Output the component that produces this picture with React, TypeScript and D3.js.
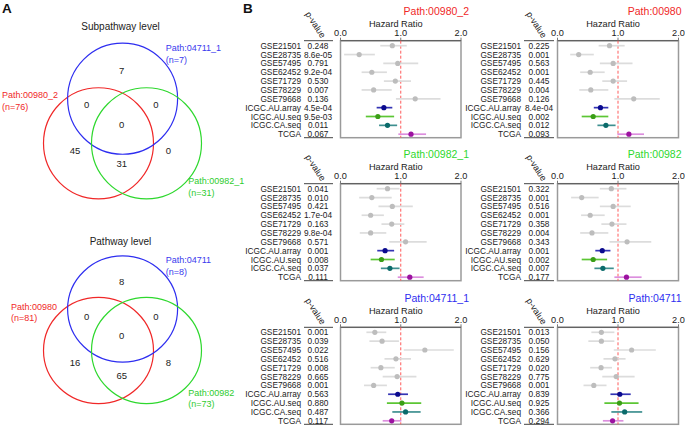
import React from 'react';
import * as d3 from 'd3';

// ---------- Data ----------
const datasets = ['GSE21501', 'GSE28735', 'GSE57495', 'GSE62452', 'GSE71729', 'GSE78229', 'GSE79668', 'ICGC.AU.array', 'ICGC.AU.seq', 'ICGC.CA.seq', 'TCGA'];
const datasetColors = ['#bdbdbd', '#bdbdbd', '#bdbdbd', '#bdbdbd', '#bdbdbd', '#bdbdbd', '#bdbdbd', '#0a0a8e', '#3a9e16', '#0b6b6b', '#9c12a0'];
const ciColors = ['#dcdcdc', '#dcdcdc', '#dcdcdc', '#dcdcdc', '#dcdcdc', '#dcdcdc', '#dcdcdc', '#3434b4', '#5cc634', '#3f9090', '#dc8ede'];

const hrTicks = [0, 1, 2];
const hrTickLabels = ['0.0', '1.0', '2.0'];

const panelTitles = ['Path:00980_2', 'Path:00980', 'Path:00982_1', 'Path:00982', 'Path:04711_1', 'Path:04711'];

const hr_00980_2 = [0.86, 0.31, 0.95, 0.52, 0.91, 0.55, 1.24, 0.72, 0.62, 0.78, 1.17];
const lo_00980_2 = [0.66, 0.06, 0.71, 0.35, 0.72, 0.35, 0.92, 0.60, 0.42, 0.64, 0.96];
const hi_00980_2 = [1.10, 0.57, 1.29, 0.77, 1.17, 0.85, 1.66, 0.86, 0.89, 0.94, 1.42];
const p_00980_2 = ['0.248', '8.6e-05', '0.791', '9.2e-04', '0.530', '0.007', '0.136', '4.5e-04', '9.5e-03', '0.011', '0.067'];

const hr_00980 = [0.86, 0.35, 0.92, 0.54, 0.92, 0.55, 1.26, 0.71, 0.59, 0.80, 1.18];
const lo_00980 = [0.68, 0.21, 0.70, 0.375, 0.74, 0.36, 0.94, 0.60, 0.40, 0.66, 0.99];
const hi_00980 = [1.11, 0.60, 1.24, 0.78, 1.15, 0.84, 1.69, 0.84, 0.84, 0.96, 1.43];
const p_00980 = ['0.225', '0.001', '0.563', '0.001', '0.445', '0.004', '0.126', '8.4e-04', '0.002', '0.012', '0.093'];

const hr_00982_1 = [0.78, 0.52, 0.86, 0.50, 0.85, 0.50, 1.08, 0.74, 0.68, 0.82, 1.15];
const lo_00982_1 = [0.60, 0.31, 0.63, 0.35, 0.68, 0.32, 0.81, 0.61, 0.50, 0.67, 0.95];
const hi_00982_1 = [0.98, 0.85, 1.20, 0.72, 1.06, 0.76, 1.43, 0.89, 0.90, 0.98, 1.38];
const p_00982_1 = ['0.041', '0.010', '0.421', '1.7e-04', '0.163', '9.8e-04', '0.571', '0.001', '0.008', '0.037', '0.111'];

const hr_00982 = [0.89, 0.40, 0.92, 0.54, 0.90, 0.57, 1.15, 0.74, 0.59, 0.75, 1.14];
const lo_00982 = [0.70, 0.225, 0.70, 0.39, 0.725, 0.375, 0.86, 0.625, 0.40, 0.61, 0.94];
const hi_00982 = [1.14, 0.68, 1.21, 0.78, 1.14, 0.84, 1.55, 0.875, 0.82, 0.93, 1.39];
const p_00982 = ['0.322', '0.001', '0.516', '0.001', '0.358', '0.004', '0.343', '0.001', '0.002', '0.007', '0.177'];

const hr_04711_1 = [0.57, 0.69, 1.40, 0.92, 0.67, 0.94, 0.55, 0.95, 1.02, 1.08, 0.85];
const lo_04711_1 = [0.43, 0.48, 1.05, 0.73, 0.50, 0.70, 0.39, 0.79, 0.77, 0.86, 0.70];
const hi_04711_1 = [0.76, 0.97, 1.88, 1.17, 0.90, 1.26, 0.77, 1.12, 1.34, 1.33, 1.01];
const p_04711_1 = ['0.001', '0.039', '0.022', '0.516', '0.008', '0.665', '0.001', '0.563', '0.880', '0.487', '0.117'];

const hr_04711 = [0.725, 0.725, 1.225, 0.95, 0.72, 0.97, 0.60, 1.03, 1.025, 1.11, 0.91];
const lo_04711 = [0.56, 0.51, 0.93, 0.76, 0.54, 0.74, 0.43, 0.875, 0.775, 0.89, 0.75];
const hi_04711 = [0.94, 0.94, 1.625, 1.125, 0.90, 1.275, 0.81, 1.21, 1.34, 1.40, 1.09];
const p_04711 = ['0.013', '0.050', '0.156', '0.629', '0.020', '0.775', '0.001', '0.839', '0.925', '0.366', '0.294'];

// Venn data
const vennTitles = ['Subpathway level', 'Pathway level'];
const vennSetsSub = ['Path:00980_2', 'Path:04711_1', 'Path:00982_1'];
const vennSizesSub = [76, 7, 31];
const vennSetsPath = ['Path:00980', 'Path:04711', 'Path:00982'];
const vennSizesPath = [81, 8, 73];
// region order: blueOnly, red∩blue, blue∩green, all, redOnly, red∩green, greenOnly
const vennCountsSub = [7, 0, 0, 0, 45, 31, 0];
const vennCountsPath = [8, 0, 0, 0, 16, 65, 8];

// ---------- Styling ----------
const FONT = "'Liberation Sans', Arial, Helvetica, sans-serif";
const RED = '#f02828';
const BLUE = '#2e2ef0';
const GREEN = '#2ed82e';
const TXT = '#222';

const colLayouts = [
  { labelRight: 301, pv: 318, ulL: 304, ulR: 333, x0: 340.5, x1: 461, titleRight: 469 },
  { labelRight: 521, pv: 539, ulL: 524, ulR: 554, x0: 557.5, x1: 678.5, titleRight: 681.5 },
];
const rowTops = [40.7, 183.7, 327.3];

type ForestProps = { col: number; row: number; title: string; color: string; hr: number[]; lo: number[]; hi: number[]; pv: string[] };

function Forest({ col, row, title, color, hr, lo, hi, pv }: ForestProps) {
  const L = colLayouts[col];
  const top = rowTops[row];
  const bottom = top + 97;
  const x = d3.scaleLinear().domain([0, 2]).range([L.x0, L.x1]);
  const y = d3.scalePoint<string>().domain(datasets).range([top + 5, top + 93.5]);
  const mid = (L.x0 + L.x1) / 2;
  return (
    <g fontFamily={FONT}>
      <text x={L.titleRight} y={top - 29.5} textAnchor="end" dominantBaseline="central" fontSize={10.5} fill={color}>{title}</text>
      <text x={mid - 5} y={top - 16.5} textAnchor="middle" dominantBaseline="central" fontSize={9.2} fill={TXT}>Hazard Ratio</text>
      {hrTicks.map((t, i) => (
        <g key={i}>
          <text x={x(t)} y={top - 7.5} textAnchor="middle" dominantBaseline="central" fontSize={9.2} fill={TXT}>{hrTickLabels[i]}</text>
          <line x1={x(t)} x2={x(t)} y1={top - 3} y2={top} stroke="#555" strokeWidth={0.8} />
        </g>
      ))}
      <text transform={`translate(${L.pv - 2.5},${top - 16})rotate(57)`} textAnchor="middle" dominantBaseline="central" fontSize={9} fill={TXT}>p-value</text>
      <line x1={L.ulL} x2={L.ulR} y1={top} y2={top} stroke="#444" strokeWidth={1} />
      <line x1={L.ulL} x2={L.ulR} y1={bottom} y2={bottom} stroke="#444" strokeWidth={1} />
      <rect x={L.x0} y={top} width={L.x1 - L.x0} height={bottom - top} fill="none" stroke="#9a9a9a" strokeWidth={1.5} />
      <line x1={L.x0} x2={L.x1} y1={top} y2={top} stroke="#555" strokeWidth={1} />
      <line x1={x(1)} x2={x(1)} y1={top} y2={bottom} stroke="#ff5a5a" strokeWidth={1} strokeDasharray="3,2" />
      {datasets.map((d, i) => (
        <g key={d}>
          <text x={L.labelRight} y={y(d)} textAnchor="end" dominantBaseline="central" fontSize={8.3} fill={TXT}>{d}</text>
          <text x={L.pv} y={y(d)} textAnchor="middle" dominantBaseline="central" fontSize={8.3} fill={TXT}>{pv[i]}</text>
          <line x1={x(lo[i])} x2={x(hi[i])} y1={y(d)} y2={y(d)} stroke={ciColors[i]} strokeWidth={1.7} />
          <circle cx={x(hr[i])} cy={y(d)} r={2.6} fill={datasetColors[i]} />
        </g>
      ))}
    </g>
  );
}

type VennProps = { title: string; sets: string[]; sizes: number[]; counts: number[]; dy: number; ryScale: number; blueCy: number; lowCy: number; titleY: number };

function Venn({ title, sets, sizes, counts, dy, ryScale, blueCy, lowCy, titleY }: VennProps) {
  const rx = 55;
  const ry = 55 * ryScale;
  const circles = [
    { cx: 98.5, cy: lowCy, c: RED },
    { cx: 122.6, cy: blueCy, c: BLUE },
    { cx: 146.5, cy: lowCy, c: GREEN },
  ];
  const regionPos = [
    [121.7, 70], [86.7, 104.3], [156, 104.3], [121.7, 124], [75, 150.7], [121.7, 163.3], [168.3, 150.7],
  ];
  const labelPos = [
    { x: sets[0].length > 10 ? 2 : 11, y: 95 },
    { x: 165.7, y: 48.3 },
    { x: 188.3, y: 181 },
  ];
  const labelColors = [RED, '#3a3aee', '#2ecc2e'];
  return (
    <g fontFamily={FONT}>
      <text x={120.5} y={titleY} textAnchor="middle" dominantBaseline="central" fontSize={10} fill={TXT}>{title}</text>
      {circles.map((c, i) => (
        <ellipse key={i} cx={c.cx} cy={c.cy} rx={rx} ry={ry} fill="none" stroke={c.c} strokeWidth={1.2} />
      ))}
      {counts.map((n, i) => (
        <text key={i} x={regionPos[i][0]} y={regionPos[i][1] + dy} textAnchor="middle" dominantBaseline="central" fontSize={9.5} fill={TXT}>{n}</text>
      ))}
      {sets.map((s, i) => (
        <g key={s}>
          <text x={labelPos[i].x} y={labelPos[i].y + dy} dominantBaseline="central" fontSize={9} fill={labelColors[i]}>{s}</text>
          <text x={labelPos[i].x} y={labelPos[i].y + dy + 11.5} dominantBaseline="central" fontSize={9} fill={labelColors[i]}>{`(n=${sizes[i]})`}</text>
        </g>
      ))}
    </g>
  );
}

export default function App() {
  const panels = [
    { hr: hr_00980_2, lo: lo_00980_2, hi: hi_00980_2, pv: p_00980_2, color: RED },
    { hr: hr_00980, lo: lo_00980, hi: hi_00980, pv: p_00980, color: RED },
    { hr: hr_00982_1, lo: lo_00982_1, hi: hi_00982_1, pv: p_00982_1, color: GREEN },
    { hr: hr_00982, lo: lo_00982, hi: hi_00982, pv: p_00982, color: GREEN },
    { hr: hr_04711_1, lo: lo_04711_1, hi: hi_04711_1, pv: p_04711_1, color: BLUE },
    { hr: hr_04711, lo: lo_04711, hi: hi_04711, pv: p_04711, color: BLUE },
  ];
  return (
    <svg width={685} height={427} viewBox="0 0 685 427" style={{ position: 'absolute', left: 0, top: 0, background: '#fff' }}>
      <rect x={0} y={0} width={685} height={427} fill="#fff" />
      <text x={2} y={12.5} fontFamily={FONT} fontWeight="bold" fontSize={13.5} fill="#111">A</text>
      <text x={243} y={12.5} fontFamily={FONT} fontWeight="bold" fontSize={13.5} fill="#111">B</text>
      <Venn title={vennTitles[0]} sets={vennSetsSub} sizes={vennSizesSub} counts={vennCountsSub} dy={0} ryScale={1.01} blueCy={98.7} lowCy={143.3} titleY={26} />
      <Venn title={vennTitles[1]} sets={vennSetsPath} sizes={vennSizesPath} counts={vennCountsPath} dy={211.7} ryScale={0.965} blueCy={309} lowCy={350.5} titleY={241.7} />
      {panels.map((p, i) => (
        <Forest key={i} col={i % 2} row={Math.floor(i / 2)} title={panelTitles[i]} color={p.color} hr={p.hr} lo={p.lo} hi={p.hi} pv={p.pv} />
      ))}
    </svg>
  );
}
